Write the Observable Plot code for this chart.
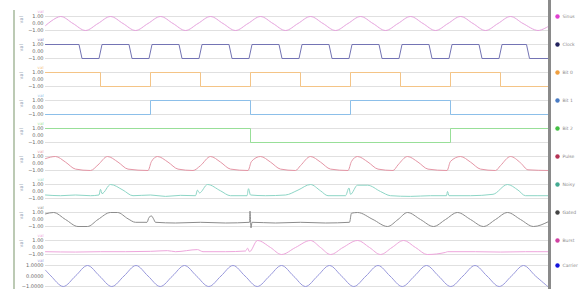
<!DOCTYPE html>
<html>
<head>
<meta charset="utf-8">
<script src="https://cdn.jsdelivr.net/npm/d3@7"></script>
<script src="https://cdn.jsdelivr.net/npm/@observablehq/plot@0.6"></script>
<style>
html,body{margin:0;padding:0;background:#fff;overflow:hidden;width:581px;height:289px;}
#wrap{position:relative;width:581px;height:289px;overflow:hidden;font-family:"DejaVu Sans",sans-serif;}
#wrap svg{position:absolute;left:0;display:block;}
#leftRule{position:absolute;left:13px;top:10px;width:2px;height:279px;background:#bccab4;}
#rightRule{position:absolute;left:548px;top:0;width:3px;height:289px;background:#8a8a8a;}
</style>
</head>
<body>
<div id="wrap"><div id="leftRule"></div></div>
<script>
// ---- categories / legend ----
const seriesNames = ["Sinus", "Clock", "Bit 0", "Bit 1", "Bit 2", "Pulse", "Noisy", "Gated", "Burst", "Carrier"];
const lineColors = ["#e6a3de", "#7474b4", "#f4c486", "#8cbfe9", "#98df98", "#e596a6", "#8dd6c6", "#8c8c8c", "#eea6dc", "#9898dc"];
const dotColors  = ["#e040d0", "#23235e", "#f0a040", "#4a7cc4", "#44c044", "#b53455", "#44aa92", "#444444", "#d042a2", "#1414dc"];
const axisTicks = [-1, 0, 1];
const rowUnits = ["val", "val", "val", "val", "val", "val", "val", "val", "val", ""];

// ---- series values: [time, value] ----
const sinus = [[-0.1,-0.3],[0.2,1],[0.45,0],[0.7,-1],[0.95,0],[1.2,1],[1.45,0],[1.7,-1],[1.95,0],[2.2,1],[2.45,0],[2.7,-1],[2.95,0],[3.2,1],[3.45,0],[3.7,-1],[3.95,0],[4.2,1],[4.45,0],[4.7,-1],[4.95,0],[5.2,1],[5.45,0],[5.7,-1],[5.95,0],[6.2,1],[6.45,0],[6.7,-1],[6.95,0],[7.2,1],[7.45,0],[7.7,-1],[7.95,0],[8.2,1],[8.45,0],[8.7,-1],[8.95,0],[9.2,1],[9.45,0],[9.75,-1],[9.96,-0.4]];
const clock = [[-0.1,1],[0.57,1],[0.63,-1],[0.97,-1],[1.03,1],[1.57,1],[1.63,-1],[1.97,-1],[2.03,1],[2.57,1],[2.63,-1],[2.97,-1],[3.03,1],[3.57,1],[3.63,-1],[3.97,-1],[4.03,1],[4.57,1],[4.63,-1],[4.97,-1],[5.03,1],[5.57,1],[5.63,-1],[5.97,-1],[6.03,1],[6.57,1],[6.63,-1],[6.97,-1],[7.03,1],[7.57,1],[7.63,-1],[7.97,-1],[8.03,1],[8.57,1],[8.63,-1],[8.97,-1],[9.03,1],[9.52,1],[9.58,-1],[9.96,-1]];
const bit0 = [[-0.1,1],[1,-1],[2,1],[3,-1],[4,1],[5,-1],[6,1],[7,-1],[8,1],[9,-1],[9.96,-1]];
const bit1 = [[-0.1,-1],[2,1],[4,-1],[6,1],[8,-1],[9.96,-1]];
const bit2 = [[-0.1,1],[4,-1],[8,1],[9.96,1]];
const pulseResp = [[-0.1,0.7],[0.1,1],[0.3,0.2],[0.5,-0.8],[0.8,-1],[0.95,-0.2],[1.14,1],[1.35,0.2],[1.55,-0.8],[1.95,-1],[2.02,0.3],[2.14,1],[2.35,0.2],[2.55,-0.8],[2.85,-1],[3.0,-0.3],[3.2,1],[3.4,0.2],[3.6,-0.8],[3.95,-1],[4.02,0.3],[4.2,1],[4.4,0.2],[4.6,-0.8],[4.9,-1],[5.0,-0.3],[5.2,1],[5.4,0.2],[5.6,-0.8],[5.95,-1],[6.02,0.3],[6.14,1],[6.35,0.2],[6.55,-0.8],[6.85,-1],[6.95,-0.2],[7.14,1],[7.35,0.2],[7.55,-0.8],[7.93,-1],[8.0,0.3],[8.2,1],[8.4,0.2],[8.6,-0.8],[8.9,-1],[9.0,-0.3],[9.2,1],[9.4,0.1],[9.55,-0.9],[9.96,-1]];
const noisySig = [[-0.1,-0.5],[0.2,-0.6],[0.5,-0.5],[0.8,-0.6],[0.97,-0.5],[1.0,0.3],[1.03,-0.3],[1.2,1],[1.45,0.2],[1.65,-0.6],[2.0,-0.5],[2.3,-0.7],[2.6,-0.55],[2.9,-0.6],[2.94,0.2],[2.98,-0.2],[3.14,1],[3.4,0.1],[3.6,-0.6],[3.93,-0.6],[3.96,0.4],[4.0,-0.5],[4.3,-0.6],[4.7,-0.5],[4.95,0.2],[5.2,1],[5.4,0.1],[5.55,-0.6],[5.9,-0.6],[5.97,0.5],[6.0,-0.4],[6.14,0.9],[6.34,0.9],[6.6,0],[6.8,-0.6],[7.2,-0.7],[7.6,-0.6],[7.92,-0.6],[7.94,0],[7.97,-0.6],[8.4,-0.6],[8.85,-0.4],[9.14,1],[9.35,0.2],[9.5,-0.6],[9.96,-0.6]];
const gatedWave = [[-0.1,0.8],[0.06,1],[0.3,0],[0.55,-1],[0.74,-1],[0.95,0],[1.2,1],[1.34,1],[1.55,0.1],[1.7,-0.4],[1.93,-0.4],[1.97,0.3],[2.02,0.5],[2.06,0.1],[2.1,-0.4],[2.5,-0.5],[3.0,-0.4],[3.5,-0.5],[3.98,-0.4],[3.99,1.2],[4.01,-1.2],[4.03,-0.4],[4.5,-0.5],[5.0,-0.4],[5.5,-0.5],[5.98,-0.4],[6.02,0.9],[6.14,1],[6.45,0],[6.74,-1],[6.95,0],[7.14,1],[7.4,0],[7.66,-1],[7.9,0],[8.14,1],[8.4,0],[8.66,-1],[8.9,0],[9.14,1],[9.4,0],[9.66,-1],[9.96,-0.3]];
const burstSine = [[-0.1,-0.6],[0.5,-0.65],[1.0,-0.6],[1.5,-0.6],[2.0,-0.55],[2.34,-0.45],[2.5,-0.6],[2.94,-0.3],[3.05,-0.6],[3.5,-0.6],[3.9,-0.5],[3.94,-0.1],[3.98,-0.6],[4.14,1],[4.4,0],[4.62,-1],[4.9,0],[5.2,1],[5.4,0],[5.6,-1],[5.85,0],[6.14,1],[6.38,0],[6.6,-1],[6.83,0],[7.06,1],[7.3,0],[7.54,-1],[7.9,-0.7],[7.94,-0.6],[8.5,-0.6],[9.0,-0.65],[9.5,-0.6],[9.96,-0.6]];
const carrier = [[-0.1,0.55],[0.01,0],[0.255,-1],[0.5,0],[0.74,1],[0.98,0],[1.225,-1],[1.47,0],[1.71,1],[1.95,0],[2.195,-1],[2.44,0],[2.68,1],[2.92,0],[3.165,-1],[3.41,0],[3.65,1],[3.89,0],[4.135,-1],[4.38,0],[4.62,1],[4.86,0],[5.1,-1],[5.34,0],[5.58,1],[5.82,0],[6.065,-1],[6.31,0],[6.55,1],[6.79,0],[7.035,-1],[7.28,0],[7.52,1],[7.76,0],[8.005,-1],[8.25,0],[8.49,1],[8.73,0],[8.975,-1],[9.22,0],[9.46,1],[9.7,0],[9.945,-1]];

const seriesData = [sinus, clock, bit0, bit1, bit2, pulseResp, noisySig, gatedWave, burstSine, carrier];
const curves = ["catmull-rom", "linear", "step-after", "step-after", "step-after", "monotone-x", "monotone-x", "monotone-x", "monotone-x", "catmull-rom"];

const wrap = document.getElementById("wrap");
seriesData.forEach((data, i) => {
  const last = i === seriesData.length - 1;
  const top = last ? 260 : 8 + 28 * i;
  const height = last ? 29 : 28;
  const mt = last ? 5 : 8;
  const mb = last ? 3 : 6;
  const fmt = last ? d3.format(".4f") : d3.format(".2f");
  const marks = [
    Plot.gridY(axisTicks.filter(d => d !== 0), {stroke: "#d8d8d8", strokeOpacity: 1, strokeWidth: 0.8}),
    Plot.text(axisTicks, {y: d => d, text: d => fmt(d), frameAnchor: "left", dx: -2, textAnchor: "end", fontSize: 5, fill: "#666"}),
    Plot.text([rowUnits[i] || "val"], {text: d => d, frameAnchor: "top-left", dx: -2, dy: -6.5, textAnchor: "end", fontSize: 4, fill: lineColors[i]}),
    Plot.line(data, {x: d => d[0], y: d => d[1], stroke: lineColors[i], strokeWidth: 1, curve: curves[i]}),
    Plot.dot([seriesNames[i]], {y: () => 1, frameAnchor: "right", dx: 9, r: 2.2, fill: dotColors[i], stroke: "none"}),
    Plot.text([seriesNames[i]], {y: () => 1, text: d => d, frameAnchor: "right", dx: 14, textAnchor: "start", fontSize: 4.5, fill: "#8a8a8a"})
  ];
  if (rowUnits[i]) {
    marks.push(Plot.text([rowUnits[i]], {text: d => d, frameAnchor: "left", dx: -24, rotate: -90, fontSize: 5, fill: "#8e9cb0"}));
  }
  const chart = Plot.plot({
    width: 581,
    height,
    marginLeft: 45,
    marginRight: 33,
    marginTop: mt,
    marginBottom: mb,
    style: {background: "transparent", fontFamily: "DejaVu Sans, sans-serif", overflow: "visible"},
    x: {domain: [-0.1, 9.96], axis: null},
    y: {domain: [-1, 1], axis: null},
    marks
  });
  chart.style.top = top + "px";
  wrap.appendChild(chart);
});
const rr = document.createElement("div");
rr.id = "rightRule";
wrap.appendChild(rr);
</script>
</body>
</html>
